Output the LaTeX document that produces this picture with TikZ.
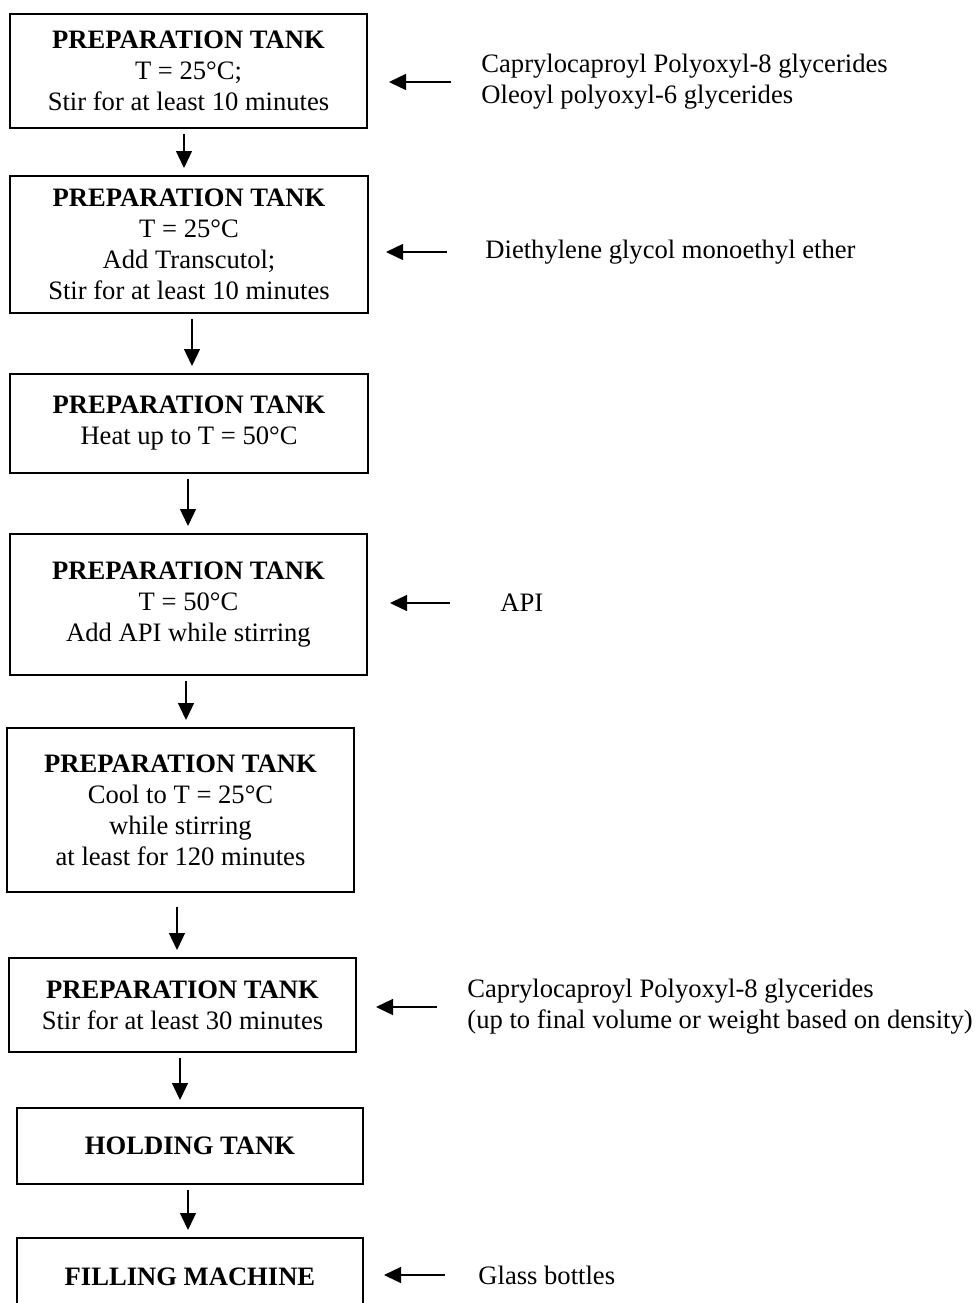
\documentclass[tikz,border=0pt]{standalone}
\usepackage{fontspec}
\setmainfont{Liberation Serif}
\usetikzlibrary{arrows.meta,calc}
\newcommand{\connectstep}[4][]{%
  \draw[flow, shorten <=2.5pt, shorten >=3.5pt, #1] let \p1 = (#2.south), \p2 = (#3.north), \p3 = (#4,0) in (\x3, \y1) -- (\x3, \y2)}
\newcommand{\connectfeed}[4]{%
  \draw[flow] ($(#1.west)+(-#3,0)$) -- ($(#2.east |- #1.west)+(#4,0)$)}

\begin{document}
\begin{tikzpicture}[x=0.5pt, y=-0.5pt,
    every node/.style={font=\fontsize{13.3}{15.5}\selectfont},
    tank/.style={draw, line width=1pt, inner sep=2pt, align=center},
    feed/.style={anchor=west, inner sep=0pt, align=left},
    flow/.style={-{Triangle[length=8.5pt, width=8pt]}, line width=0.65pt}]
  \useasboundingbox (0,0) rectangle (977,1303);
  \clip (0,0) rectangle (977,1303);

  \node[tank, minimum width=178.5pt, minimum height=57pt] (b1) at (188.5,71)
    {\textbf{PREPARATION TANK}\\T = 25°C;\\Stir for at least 10 minutes};
  \node[tank, minimum width=179pt, minimum height=68.5pt] (b2) at (189,244.5)
    {\textbf{PREPARATION TANK}\\T = 25°C\\Add Transcutol;\\Stir for at least 10 minutes};
  \node[tank, minimum width=179pt, minimum height=49.5pt] (b3) at (189,423.5)
    {\textbf{PREPARATION TANK}\\Heat up to T = 50°C};
  \node[tank, minimum width=178.5pt, minimum height=70.5pt] (b4) at (188.5,604.5)
    {\textbf{PREPARATION TANK}\\T = 50°C\\Add API while stirring};
  \node[tank, minimum width=173.5pt, minimum height=82pt] (b5) at (180.5,810)
    {\textbf{PREPARATION TANK}\\Cool to T = 25°C\\while stirring\\at least for 120 minutes};
  \node[tank, minimum width=173.5pt, minimum height=47pt] (b6) at (182.5,1005)
    {\textbf{PREPARATION TANK}\\Stir for at least 30 minutes};
  \node[tank, minimum width=173pt, minimum height=38pt] (b7) at (190,1146)
    {\textbf{HOLDING TANK}};
  \node[tank, minimum width=173pt, minimum height=38.5pt] (b8) at (190,1276.5)
    {\textbf{FILLING MACHINE}};

  \node[feed] (t1) at (481,82)
    {Caprylocaproyl Polyoxyl-8 glycerides\\Oleoyl polyoxyl-6 glycerides};
  \node[feed] (t2) at (485,252) {Diethylene glycol monoethyl ether};
  \node[feed] (t3) at (500,603) {API};
  \node[feed] (t4) at (467,1007)
    {Caprylocaproyl Polyoxyl-8 glycerides\\(up to final volume or weight based on density)};
  \node[feed] (t5) at (478,1275) {Glass bottles};

  \connectstep{b1}{b2}{184};
  \connectstep{b2}{b3}{192};
  \connectstep{b3}{b4}{188};
  \connectstep{b4}{b5}{186};
  \connectstep[shorten <=7pt]{b5}{b6}{177};
  \connectstep{b6}{b7}{180};
  \connectstep{b7}{b8}{188};

  \connectfeed{t1}{b1}{30}{21};
  \connectfeed{t2}{b2}{38}{17};
  \connectfeed{t3}{b4}{50}{22};
  \connectfeed{t4}{b6}{30}{19};
  \connectfeed{t5}{b8}{33}{20};
\end{tikzpicture}
\end{document}
